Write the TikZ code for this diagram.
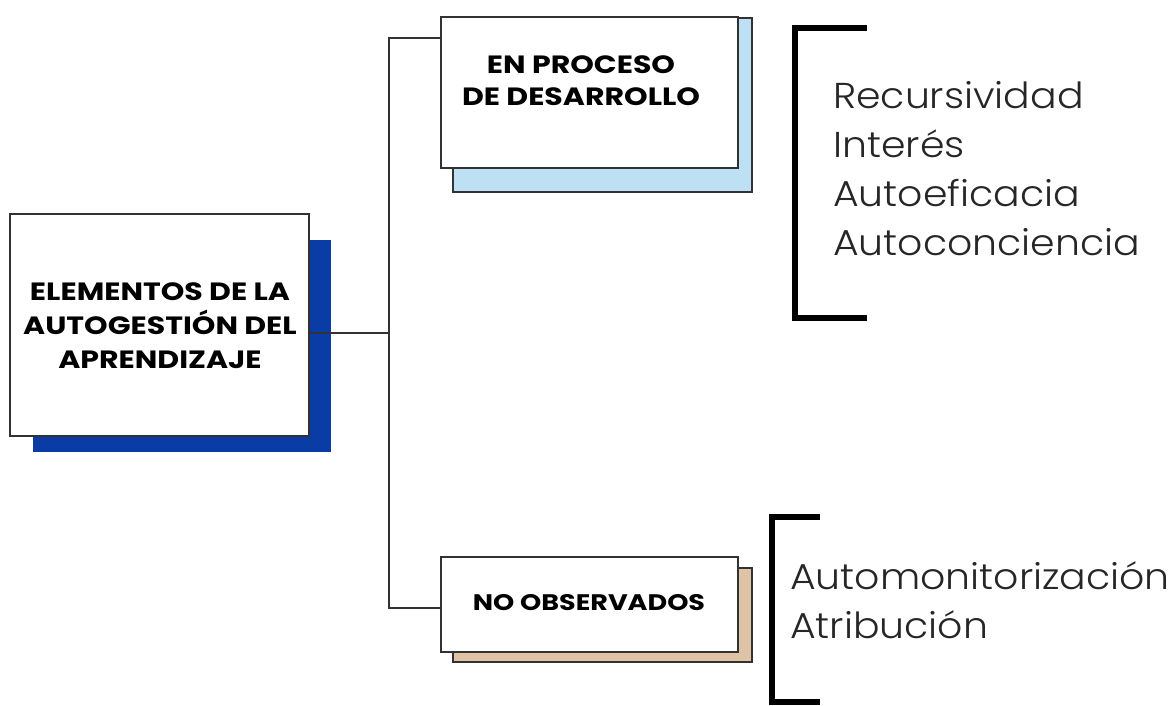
\documentclass[tikz,border=0pt]{standalone}
\usepackage{fontspec}
\setmainfont{Poppins}
\newfontfamily\headfont[FakeStretch=1.2]{Poppins Bold}
\newfontfamily\itemfont[FakeStretch=1.095]{Poppins Light}
\definecolor{deepblue}{RGB}{10,60,165}
\definecolor{paleblue}{RGB}{190,224,244}
\definecolor{tan}{RGB}{222,195,166}
\definecolor{edge}{RGB}{50,50,50}
\begin{document}
\begin{tikzpicture}[x=1pt,y=-1pt,
  box/.style={draw=edge,line width=1.6pt,fill=white},
  shadowbox/.style={draw=edge,line width=1.6pt},
  head/.style={align=center,anchor=base,text=black,inner sep=0pt},
  item/.style={align=left,anchor=base west,font=\itemfont\fontsize{36}{49}\selectfont,inner sep=0pt,text=black!85},
  link/.style={draw=edge,line width=1.5pt},
  bracket/.style={draw=black,line width=6pt}]
\useasboundingbox (0,0) rectangle (1172,705);
% main box
\fill[deepblue] (33,240) rectangle (331,452);
\draw[box] (10,214) rectangle (309,436);
\node[head,font=\headfont\fontsize{25}{34}\selectfont] (main) at (160,368) {ELEMENTOS DE LA\\AUTOGESTIÓN DEL\\APRENDIZAJE};
\coordinate (mainR) at (309,333);
% top box
\draw[shadowbox,fill=paleblue] (453,18) rectangle (752,192);
\draw[box] (441,17) rectangle (738,168);
\node[head,font=\headfont\fontsize{25}{32}\selectfont] (top) at (581,105) {EN PROCESO\\DE DESARROLLO};
\coordinate (topL) at (441,38);
% bottom box
\draw[shadowbox,fill=tan] (453,568) rectangle (752,662);
\draw[box] (441,557) rectangle (738,652);
\node[head,font=\headfont\fontsize{22.5}{32}\selectfont] (bot) at (589,610) {NO OBSERVADOS};
\coordinate (botL) at (441,608);
% connectors
\coordinate (j) at (389,333);
\draw[link] (mainR) -- (j);
\draw[link] (topL) -- (389,38) -- (389,608) -- (botL);
% brackets
\draw[bracket] (867,28) -- (795,28) -- (795,318) -- (867,318);
\draw[bracket] (820,517) -- (772,517) -- (772,702) -- (820,702);
% item lists
\node[item] (list1) at (833,255) {Recursividad\\Interés\\Autoeficacia\\Autoconciencia};
\node[item] (list2) at (790,638) {Automonitorización\\Atribución};
\end{tikzpicture}
\end{document}
